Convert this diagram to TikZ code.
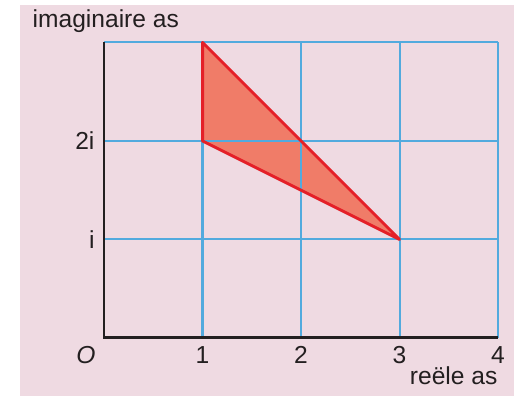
\documentclass[tikz,border=0pt]{standalone}
\usepackage{fontspec}
\setmainfont{Liberation Sans}
\usetikzlibrary{positioning}
\definecolor{bgpink}{RGB}{239,218,226}
\definecolor{gridblue}{RGB}{82,170,222}
\definecolor{axisblack}{RGB}{35,31,32}
\definecolor{trired}{RGB}{228,32,40}
\definecolor{trifill}{RGB}{240,124,104}
\begin{document}
\begin{tikzpicture}[
    lbl/.style={font=\fontsize{7.1}{8.5}\selectfont, text=axisblack, inner sep=0pt},
    gridline/.style={draw=gridblue, line width=0.6pt},
    axisline/.style={draw=axisblack, line width=0.85pt},
    triedge/.style={draw=trired, line width=0.85pt, line join=round}]
\useasboundingbox (-1.056,-0.589) rectangle (4.162,3.431);
\fill[bgpink] (-0.853,-0.589) rectangle (4.162,3.381);
\coordinate (A) at (1,3);
\coordinate (B) at (1,2);
\coordinate (C) at (3,1);
\fill[trifill] (A) -- (B) -- (C) -- cycle;
\foreach \x in {1,...,4} \draw[gridline] (\x,0) -- (\x,3);
\foreach \y in {1,...,3} \draw[gridline] (0,\y) -- (4,\y);
\draw[triedge] (A) -- (B) -- (C) -- cycle;
\draw[axisline] (0,3) -- (0,0) -- (4,0);
\node[lbl, anchor=base west] (imag) at (-0.731,3.147) {imaginaire as};
\node[lbl, anchor=east] (twoi) at (-0.09,2) {2i};
\node[lbl, anchor=east] (onei) at (-0.09,1) {i};
\node[lbl] (orig) at (-0.183,-0.173) {\textit{O}};
\foreach \x in {1,...,4} \node[lbl] (x\x) at (\x,-0.173) {\x};
\node[lbl, anchor=base east] (real) at (4.0,-0.477) {reële as};
\end{tikzpicture}
\end{document}
